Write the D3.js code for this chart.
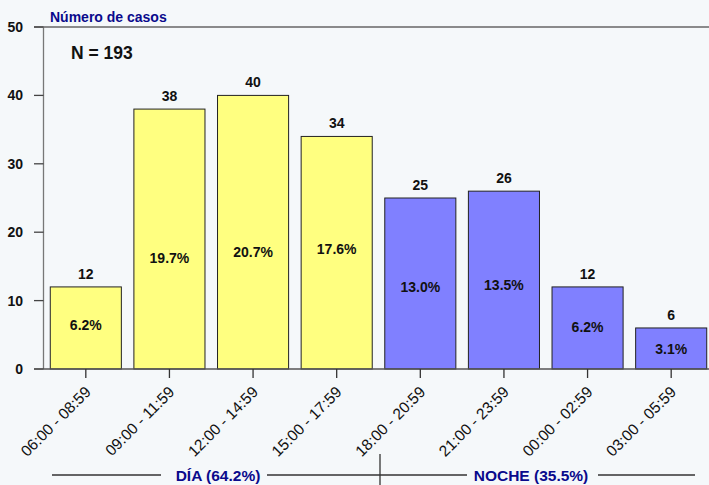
<!DOCTYPE html>
<html>
<head>
<meta charset="utf-8">
<script src="https://cdn.jsdelivr.net/npm/d3@7"></script>
<style>
  body { margin: 0; background: #f5f8fa; }
  svg { display: block; font-family: "Liberation Sans", Arial, sans-serif; }
</style>
</head>
<body>
<div id="chart"></div>
<script>
// data
const categories = ["06:00 - 08:59", "09:00 - 11:59", "12:00 - 14:59", "15:00 - 17:59",
                    "18:00 - 20:59", "21:00 - 23:59", "00:00 - 02:59", "03:00 - 05:59"];
const counts = [12, 38, 40, 34, 25, 26, 12, 6];
const percents = ["6.2%", "19.7%", "20.7%", "17.6%", "13.0%", "13.5%", "6.2%", "3.1%"];
const period = ["dia", "dia", "dia", "dia", "noche", "noche", "noche", "noche"];
const yTicks = [0, 10, 20, 30, 40, 50];
const totalLabel = "N = 193";
const groupLabels = ["DÍA (64.2%)", "NOCHE (35.5%)"];

const width = 709, height = 485;
const colors = { dia: "#ffff80", noche: "#8080ff" };
// where the % label sits inside each bar (fraction of bar height, as in the original)
const pctLabelFrac = [0.535, 0.427, 0.428, 0.516, 0.48, 0.472, 0.512, 0.487];

const svg = d3.select("#chart").append("svg")
    .attr("width", width).attr("height", height);

svg.append("rect").attr("width", width).attr("height", height).attr("fill", "#f5f8fa");

const x = d3.scaleBand()
    .domain(categories)
    .range([44, 713])
    .paddingInner(0.15)
    .paddingOuter(0.075);

const y = d3.scaleLinear().domain([0, 50]).range([369, 27]);

// top frame line
svg.append("line")
    .attr("x1", 34).attr("x2", width)
    .attr("y1", y(50)).attr("y2", y(50))
    .attr("stroke", "#666").attr("stroke-width", 1.3);

// y axis
svg.append("line")
    .attr("x1", 43.5).attr("x2", 43.5)
    .attr("y1", y(50)).attr("y2", y(0))
    .attr("stroke", "#777").attr("stroke-width", 1.3);

const yt = svg.selectAll(".ytick").data(yTicks).join("g").attr("class", "ytick");
yt.append("line")
    .attr("x1", 34).attr("x2", 43.5)
    .attr("y1", d => y(d)).attr("y2", d => y(d))
    .attr("stroke", "#444").attr("stroke-width", 1.3);
yt.append("text")
    .attr("x", 23).attr("y", d => y(d))
    .attr("dy", "0.36em")
    .attr("text-anchor", "end")
    .attr("font-size", 14).attr("font-weight", "bold")
    .attr("fill", "#111")
    .text(d => d);

// bars
const bars = svg.selectAll(".bar").data(categories).join("g").attr("class", "bar");
bars.append("rect")
    .attr("x", d => x(d))
    .attr("y", (d, i) => y(counts[i]))
    .attr("width", x.bandwidth())
    .attr("height", (d, i) => y(0) - y(counts[i]))
    .attr("fill", (d, i) => colors[period[i]])
    .attr("stroke", "#222").attr("stroke-width", 1);

bars.append("text")
    .attr("x", d => x(d) + x.bandwidth() / 2)
    .attr("y", (d, i) => y(counts[i]) - 8)
    .attr("text-anchor", "middle")
    .attr("font-size", 14).attr("font-weight", "bold")
    .attr("fill", "#111")
    .text((d, i) => counts[i]);

bars.append("text")
    .attr("x", d => x(d) + x.bandwidth() / 2)
    .attr("y", (d, i) => y(counts[i] * pctLabelFrac[i]))
    .attr("dy", "0.36em")
    .attr("text-anchor", "middle")
    .attr("font-size", 14).attr("font-weight", "bold")
    .attr("fill", "#111")
    .text((d, i) => percents[i]);

// bottom axis line
svg.append("line")
    .attr("x1", 34).attr("x2", width)
    .attr("y1", y(0)).attr("y2", y(0))
    .attr("stroke", "#555").attr("stroke-width", 1.3);

const xt = svg.selectAll(".xtick").data(categories).join("g").attr("class", "xtick")
    .attr("transform", d => `translate(${x(d) + x.bandwidth() / 2},${y(0)})`);
xt.append("line").attr("y1", 0).attr("y2", 9).attr("stroke", "#333").attr("stroke-width", 1.3);
xt.append("text")
    .attr("transform", "translate(6,24) rotate(-45)")
    .attr("text-anchor", "end")
    .attr("font-size", 15.5)
    .attr("fill", "#111")
    .text(d => d);

// titles
svg.append("text")
    .attr("x", 50).attr("y", 22)
    .attr("font-size", 14).attr("font-weight", "bold")
    .attr("fill", "#0a0a8c")
    .text("Número de casos");

svg.append("text")
    .attr("x", 71).attr("y", 59)
    .attr("font-size", 17.5).attr("font-weight", "bold")
    .attr("fill", "#111")
    .text(totalLabel);

// group brackets
const gy = 475;
const groupLines = [[52, 161], [267, 467], [598, 695]];
svg.selectAll(".gline").data(groupLines).join("line")
    .attr("x1", d => d[0]).attr("x2", d => d[1])
    .attr("y1", gy).attr("y2", gy)
    .attr("stroke", "#333").attr("stroke-width", 1.3);

svg.append("line")
    .attr("x1", 380).attr("x2", 380)
    .attr("y1", 454).attr("y2", height)
    .attr("stroke", "#333").attr("stroke-width", 1.3);

svg.selectAll(".glabel").data(groupLabels).join("text")
    .attr("x", (d, i) => [218, 531][i])
    .attr("y", gy).attr("dy", "0.36em")
    .attr("text-anchor", "middle")
    .attr("font-size", 15.5).attr("font-weight", "bold")
    .attr("fill", "#0a0a8c")
    .text(d => d);
</script>
</body>
</html>
